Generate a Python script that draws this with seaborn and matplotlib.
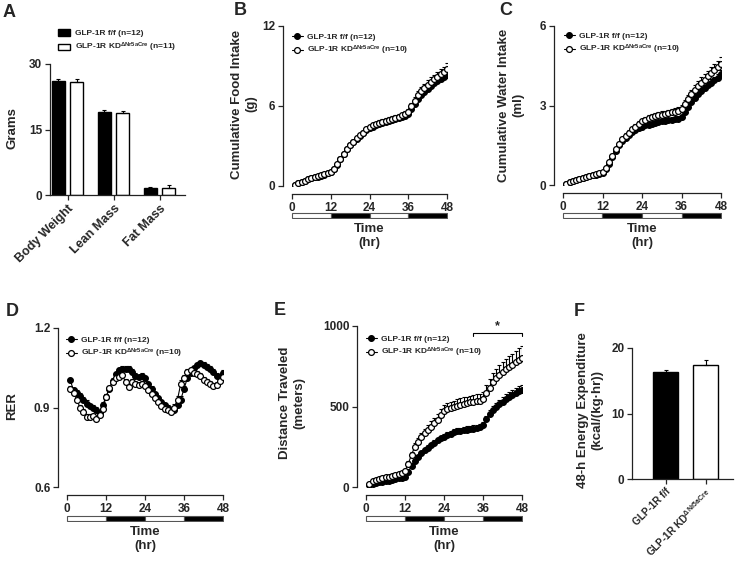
import numpy as np
import pandas as pd
import seaborn as sns
import matplotlib.pyplot as plt
from matplotlib.patches import Patch

sns.set_style('ticks')
plt.rcParams['font.family'] = ['Liberation Sans', 'DejaVu Sans']
plt.rcParams['font.weight'] = 'bold'
plt.rcParams['axes.labelweight'] = 'bold'
plt.rcParams['mathtext.fontset'] = 'custom'
plt.rcParams['mathtext.rm'] = 'Liberation Sans:bold'
plt.rcParams['mathtext.bf'] = 'Liberation Sans:bold'
plt.rcParams['mathtext.it'] = 'Liberation Sans:bold'

#DATA
body_parts = ['Body Weight', 'Lean Mass', 'Fat Mass']
grams_ff = [26.1, 18.9, 1.6]
grams_ff_sem = [0.4, 0.5, 0.3]
grams_kd = [25.9, 18.7, 1.7]
grams_kd_sem = [0.7, 0.6, 0.7]

hours = list(range(1, 49))

food_ff = [0.1, 0.2, 0.3, 0.4, 0.5, 0.58, 0.65, 0.7, 0.78, 0.85, 0.95, 1.05,
           1.3, 1.6, 2.0, 2.4, 2.75, 3.05, 3.3, 3.55, 3.75, 3.95, 4.2, 4.35,
           4.45, 4.55, 4.65, 4.72, 4.8, 4.88, 4.95, 5.02, 5.1, 5.18, 5.27, 5.4,
           5.75, 6.15, 6.5, 6.8, 7.05, 7.3, 7.5, 7.7, 7.85, 8.0, 8.15, 8.35]
food_kd = [0.1, 0.2, 0.3, 0.4, 0.5, 0.6, 0.66, 0.72, 0.8, 0.87, 0.96, 1.05,
           1.3, 1.62, 2.0, 2.4, 2.75, 3.05, 3.32, 3.58, 3.8, 4.0, 4.25, 4.42,
           4.55, 4.65, 4.75, 4.83, 4.9, 4.98, 5.05, 5.12, 5.2, 5.3, 5.4, 5.55,
           6.0, 6.4, 6.8, 7.1, 7.35, 7.6, 7.8, 8.0, 8.2, 8.4, 8.55, 8.8]
food_ff_sem = [0.02, 0.03, 0.03, 0.04, 0.04, 0.05, 0.05, 0.05, 0.06, 0.06, 0.06, 0.07,
               0.08, 0.09, 0.1, 0.1, 0.11, 0.11, 0.12, 0.12, 0.12, 0.13, 0.13, 0.13,
               0.14, 0.14, 0.14, 0.15, 0.15, 0.15, 0.16, 0.16, 0.16, 0.17, 0.17, 0.18,
               0.2, 0.22, 0.24, 0.25, 0.26, 0.27, 0.28, 0.28, 0.29, 0.3, 0.3, 0.31]
food_kd_sem = [0.02, 0.03, 0.04, 0.04, 0.05, 0.05, 0.06, 0.06, 0.06, 0.07, 0.07, 0.08,
               0.09, 0.1, 0.11, 0.12, 0.12, 0.13, 0.13, 0.14, 0.14, 0.15, 0.15, 0.15,
               0.16, 0.16, 0.17, 0.17, 0.17, 0.18, 0.18, 0.19, 0.19, 0.2, 0.2, 0.22,
               0.25, 0.28, 0.3, 0.32, 0.33, 0.34, 0.35, 0.36, 0.37, 0.38, 0.39, 0.4]

water_ff = [0.05, 0.1, 0.14, 0.18, 0.22, 0.26, 0.3, 0.33, 0.36, 0.39, 0.42, 0.46,
            0.6, 0.8, 1.05, 1.3, 1.5, 1.65, 1.78, 1.9, 2.0, 2.08, 2.14, 2.2,
            2.25, 2.28, 2.31, 2.34, 2.37, 2.4, 2.42, 2.44, 2.46, 2.48, 2.5, 2.55,
            2.75, 2.95, 3.12, 3.28, 3.42, 3.55, 3.66, 3.76, 3.86, 3.95, 4.05, 4.2]
water_kd = [0.05, 0.1, 0.14, 0.19, 0.23, 0.27, 0.31, 0.34, 0.37, 0.4, 0.44, 0.48,
            0.65, 0.85, 1.1, 1.35, 1.55, 1.72, 1.86, 1.98, 2.1, 2.2, 2.3, 2.4,
            2.46, 2.52, 2.56, 2.6, 2.63, 2.66, 2.69, 2.72, 2.74, 2.77, 2.8, 2.88,
            3.05, 3.25, 3.42, 3.58, 3.72, 3.86, 3.98, 4.1, 4.22, 4.34, 4.45, 4.58]
water_ff_sem = [0.01, 0.01, 0.02, 0.02, 0.02, 0.02, 0.03, 0.03, 0.03, 0.03, 0.03, 0.04,
                0.04, 0.05, 0.05, 0.06, 0.06, 0.06, 0.07, 0.07, 0.07, 0.07, 0.08, 0.08,
                0.08, 0.08, 0.08, 0.09, 0.09, 0.09, 0.09, 0.09, 0.1, 0.1, 0.1, 0.1,
                0.11, 0.11, 0.12, 0.12, 0.12, 0.13, 0.13, 0.13, 0.14, 0.14, 0.14, 0.15]
water_kd_sem = [0.01, 0.02, 0.02, 0.02, 0.03, 0.03, 0.03, 0.03, 0.04, 0.04, 0.04, 0.04,
                0.05, 0.06, 0.07, 0.07, 0.08, 0.08, 0.09, 0.09, 0.09, 0.1, 0.1, 0.1,
                0.11, 0.11, 0.11, 0.11, 0.12, 0.12, 0.12, 0.12, 0.13, 0.13, 0.13, 0.14,
                0.15, 0.16, 0.17, 0.18, 0.19, 0.2, 0.2, 0.21, 0.22, 0.22, 0.23, 0.25]

rer_ff = [1.003, 0.965, 0.955, 0.945, 0.93, 0.915, 0.905, 0.9, 0.89, 0.88, 0.91, 0.94,
          0.97, 1.0, 1.025, 1.04, 1.047, 1.047, 1.045, 1.035, 1.02, 1.015, 1.02, 1.01,
          0.99, 0.97, 0.95, 0.935, 0.92, 0.91, 0.9, 0.892, 0.89, 0.91, 0.93, 0.97,
          1.01, 1.03, 1.05, 1.06, 1.067, 1.06, 1.054, 1.045, 1.035, 1.02, 1.016, 1.03]
rer_kd = [0.97, 0.955, 0.93, 0.9, 0.883, 0.865, 0.865, 0.867, 0.855, 0.87, 0.896, 0.94,
          0.972, 0.995, 1.01, 1.016, 1.022, 0.997, 0.978, 0.997, 0.99, 0.985, 0.99, 0.98,
          0.965, 0.95, 0.935, 0.92, 0.905, 0.895, 0.89, 0.884, 0.9, 0.93, 0.99, 1.01,
          1.035, 1.04, 1.03, 1.028, 1.02, 1.003, 0.997, 0.99, 0.98, 0.985, 1.0, 1.016]
rer_ff_sem = [0.008, 0.01, 0.012, 0.01, 0.01, 0.012, 0.01, 0.01, 0.012, 0.01, 0.01, 0.01,
              0.01, 0.01, 0.01, 0.008, 0.008, 0.008, 0.01, 0.01, 0.01, 0.008, 0.01, 0.01,
              0.008, 0.01, 0.01, 0.008, 0.008, 0.008, 0.008, 0.01, 0.01, 0.01, 0.012, 0.012,
              0.01, 0.008, 0.008, 0.008, 0.008, 0.01, 0.01, 0.01, 0.012, 0.01, 0.01, 0.01]
rer_kd_sem = [0.01, 0.012, 0.012, 0.01, 0.012, 0.01, 0.012, 0.01, 0.01, 0.012, 0.01, 0.01,
              0.01, 0.012, 0.01, 0.01, 0.012, 0.01, 0.01, 0.012, 0.01, 0.01, 0.01, 0.01,
              0.01, 0.01, 0.012, 0.01, 0.01, 0.01, 0.01, 0.01, 0.012, 0.012, 0.015, 0.012,
              0.01, 0.01, 0.012, 0.01, 0.01, 0.012, 0.01, 0.01, 0.012, 0.01, 0.01, 0.01]

dist_ff = [12, 18, 24, 28, 32, 36, 40, 45, 50, 54, 58, 64,
           95, 130, 160, 185, 209, 228, 245, 261, 275, 290, 302, 312,
           322, 332, 340, 346, 350, 354, 357, 360, 363, 366, 372, 385,
           420, 455, 480, 497, 515, 530, 545, 558, 571, 585, 595, 602]
dist_kd = [20, 35, 45, 50, 55, 60, 65, 70, 75, 80, 88, 100,
           145, 200, 250, 282, 310, 333, 355, 375, 395, 416, 450, 475,
           485, 492, 499, 505, 512, 518, 522, 526, 530, 533, 536, 545,
           585, 615, 650, 675, 698, 714, 732, 745, 758, 775, 790, 800]
dist_ff_sem = [2, 3, 3, 4, 4, 5, 5, 5, 6, 6, 6, 7,
               8, 10, 11, 12, 13, 14, 14, 15, 15, 16, 16, 17,
               17, 17, 18, 18, 18, 18, 19, 19, 19, 19, 20, 21,
               23, 25, 26, 27, 28, 29, 30, 30, 31, 31, 32, 32]
dist_kd_sem = [3, 4, 5, 5, 6, 6, 7, 7, 8, 8, 9, 10,
               14, 18, 22, 25, 27, 29, 31, 33, 34, 35, 36, 37,
               37, 38, 38, 39, 39, 40, 40, 41, 41, 42, 42, 44,
               50, 55, 58, 60, 62, 64, 65, 66, 68, 70, 72, 75]

ee_groups = ['GLP-1R f/f', r'GLP-1R KD$^{\mathrm{\Delta Nr5aCre}}$']
ee_mean = [16.3, 17.4]
ee_sem = [0.35, 0.75]

phase_start = [0, 12, 24, 36]
phase_len = [12, 12, 12, 12]
phase_color = ['white', 'black', 'white', 'black']

lab_ff = 'GLP-1R f/f (n=12)'
lab_kd = r'GLP-1R KD$^{\mathrm{\Delta Nr5aCre}}$ (n=10)'

W, H = 740, 561
fig = plt.figure(figsize=(7.4, 5.61), dpi=100)


def add_ax(left, top, right, bottom):
    return fig.add_axes([left / W, 1 - bottom / H, (right - left) / W, (bottom - top) / H])


def style_ax(ax, tick_size=8.5):
    sns.despine(ax=ax)
    ax.tick_params(axis='both', direction='out', length=3.5, width=0.9, labelsize=tick_size, pad=2)
    for s in ['left', 'bottom']:
        ax.spines[s].set_linewidth(0.9)
        ax.spines[s].set_color('#222222')


def add_errors(ax, x, y, sem):
    ax.errorbar(x, y, yerr=[np.zeros(len(sem)), sem], fmt='none', ecolor='black',
                elinewidth=0.8, capsize=1.5, capthick=0.8, zorder=1)


def time_panel(box, ylim, yticks, ff, ff_sem, kd, kd_sem, ld_top, leg_xy):
    ax = add_ax(*box)
    add_errors(ax, hours, ff, ff_sem)
    sns.lineplot(x=hours, y=ff, ax=ax, color='black', marker='o', markersize=4.2,
                 markerfacecolor='black', markeredgecolor='black', markeredgewidth=0.8,
                 linewidth=0.8, label=lab_ff, zorder=2)
    add_errors(ax, hours, kd, kd_sem)
    sns.lineplot(x=hours, y=kd, ax=ax, color='black', marker='o', markersize=4.2,
                 markerfacecolor='white', markeredgecolor='black', markeredgewidth=0.9,
                 linewidth=0.8, label=lab_kd, zorder=3)
    ax.set_xlim(0, 48)
    ax.set_ylim(*ylim)
    ax.set_xticks([0, 12, 24, 36, 48])
    ax.set_yticks(yticks)
    ax.set_xlabel('')
    ax.set_ylabel('')
    style_ax(ax)
    ax.spines['left'].set_position(('outward', 6.5))
    ax.spines['bottom'].set_position(('outward', 5.8))
    ax.legend(loc='upper left', bbox_to_anchor=(leg_xy[0] / W, 1 - leg_xy[1] / H),
              bbox_transform=fig.transFigure, borderaxespad=0, borderpad=0,
              frameon=False, fontsize=6, handlelength=1.3, handletextpad=0.5,
              labelspacing=0.35)
    # light / dark cycle bar
    lax = add_ax(box[0] - 1, ld_top - 1, box[2] + 1, ld_top + 6)
    lax.barh([0, 0, 0, 0], phase_len, left=phase_start, color=phase_color,
             edgecolor='#555555', linewidth=0.8, height=1)
    lax.set_xlim(-0.3, 48.3)
    lax.set_ylim(-0.7, 0.7)
    lax.set_xticks([])
    lax.set_yticks([])
    for s in lax.spines.values():
        s.set_visible(False)
    lax.patch.set_alpha(0)
    lax.set_xlabel('Time\n(hr)', fontsize=9.5, labelpad=3, linespacing=1.25)
    return ax


#A BODY COMPOSITION
axA = add_ax(50, 64, 185, 195)
dfA = pd.DataFrame({'part': body_parts + body_parts,
                    'grams': grams_ff + grams_kd,
                    'group': ['ff'] * 3 + ['kd'] * 3})
sns.barplot(data=dfA, x='part', y='grams', hue='group', hue_order=['ff', 'kd'],
            palette=['black', 'white'], edgecolor='black', linewidth=1,
            width=0.8, gap=0.3, errorbar=None, legend=False, ax=axA)
for cont, sems in zip(axA.containers, [grams_ff_sem, grams_kd_sem]):
    for bar, e in zip(cont, sems):
        add_errors(axA, [bar.get_x() + bar.get_width() / 2], [bar.get_height()], [e])
axA.set_ylim(0, 30)
axA.set_yticks([0, 15, 30])
axA.set_xlim(-0.38, 2.55)
axA.set_xlabel('')
axA.set_ylabel('')
style_ax(axA)
plt.setp(axA.get_xticklabels(), rotation=45, ha='right', rotation_mode='anchor', fontsize=9)
axA.legend(handles=[Patch(facecolor='black', edgecolor='black', label='GLP-1R f/f (n=12)'),
                    Patch(facecolor='white', edgecolor='black',
                          label=r'GLP-1R KD$^{\mathrm{\Delta Nr5aCre}}$ (n=11)')],
           loc='upper left', bbox_to_anchor=(58 / W, 1 - 29 / H), bbox_transform=fig.transFigure,
           borderaxespad=0, borderpad=0, frameon=False, fontsize=6,
           handlelength=1.4, handleheight=0.9, handletextpad=0.6, labelspacing=0.45)

#B FOOD, C WATER, D RER, E DISTANCE
axB = time_panel((292, 26, 447, 186), (0, 12), [0, 6, 12], food_ff, food_ff_sem,
                 food_kd, food_kd_sem, 213, (292, 33))
axC = time_panel((563, 26, 721, 185), (0, 6), [0, 3, 6], water_ff, water_ff_sem,
                 water_kd, water_kd_sem, 213, (564, 32))
axD = time_panel((67, 328, 223, 487), (0.6, 1.2), [0.6, 0.9, 1.2], rer_ff, rer_ff_sem,
                 rer_kd, rer_kd_sem, 516, (66, 336))
axE = time_panel((366, 326, 522, 487), (0, 1000), [0, 500, 1000], dist_ff, dist_ff_sem,
                 dist_kd, dist_kd_sem, 516, (366, 335))
axE.plot([33, 33, 48, 48], [935, 958, 958, 935], color='black', lw=0.8, clip_on=False)
axE.text(40.5, 962, '*', ha='center', va='bottom', fontsize=9)

#F ENERGY EXPENDITURE
axF = add_ax(632, 348, 733, 479)
sns.barplot(x=ee_groups, y=ee_mean, hue=ee_groups, palette=['black', 'white'],
            edgecolor='black', linewidth=1, width=0.62, errorbar=None, legend=False, ax=axF)
bars = [b for cont in axF.containers for b in cont]
for bar, e in zip(bars, ee_sem):
    add_errors(axF, [bar.get_x() + bar.get_width() / 2], [bar.get_height()], [e])
axF.set_ylim(0, 20)
axF.set_yticks([0, 10, 20])
axF.set_xlim(-0.83, 1.67)
style_ax(axF)
plt.setp(axF.get_xticklabels(), rotation=45, ha='right', rotation_mode='anchor', fontsize=7.2)

#AXIS LABELS
ylab = [(12, 128, 'Grams'), (244, 104, 'Cumulative Food Intake\n(g)'),
        (511, 105, 'Cumulative Water Intake\n(ml)'), (12, 406, 'RER'),
        (292, 403, 'Distance Traveled\n(meters)'),
        (590, 410, '48-h Energy Expenditure\n(kcal/(kg\u00b7hr))')]
for x, y, t in ylab:
    fig.text(x / W, 1 - y / H, t, rotation=90, ha='center', va='center',
             fontsize=9.5, linespacing=1.2)

#PANEL LETTERS
for x, y, t in [(3, 4, 'A'), (234, 2, 'B'), (499, 2, 'C'), (6, 303, 'D'), (274, 302, 'E'), (574, 303, 'F')]:
    fig.text(x / W, 1 - y / H, t, ha='left', va='top', fontsize=13)

fig.savefig('out.png', dpi=100)
